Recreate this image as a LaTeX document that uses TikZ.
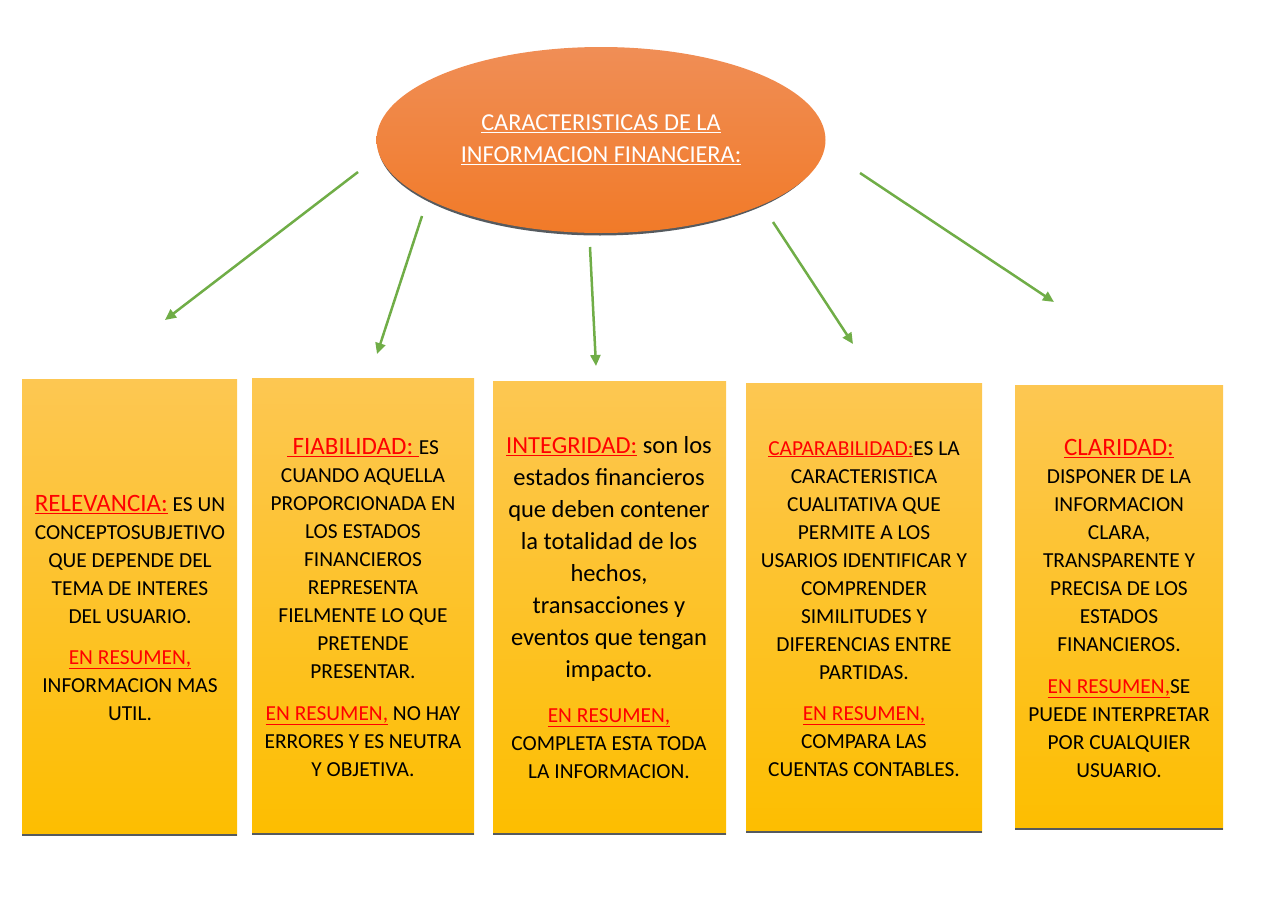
\documentclass[tikz,border=0pt]{standalone}
\usepackage{fontspec}
\setmainfont{Carlito}
\usetikzlibrary{shapes.geometric,arrows.meta}
\definecolor{naranjaA}{RGB}{240,142,86}
\definecolor{naranjaB}{RGB}{241,122,40}
\definecolor{amarilloA}{RGB}{253,199,82}
\definecolor{amarilloB}{RGB}{253,190,0}
\definecolor{verde}{RGB}{112,173,71}
\definecolor{sombra}{RGB}{85,90,95}
\newcommand{\rojo}[1]{\textcolor{red}{\underline{#1}}}
\newcommand{\rojog}[1]{{\fontsize{25}{28}\selectfont\rojo{#1}}}
\begin{document}
\begin{tikzpicture}[x=1pt,y=-1pt,
	caja/.style={rectangle, anchor=north west, inner sep=0pt, top color=amarilloA, bottom color=amarilloB, draw=none},
	texto/.style={anchor=north, align=center, inner sep=0pt, font=\fontsize{21.4}{28}\selectfont},
	flecha/.style={draw=verde, line width=2.5pt, -{Triangle[length=11pt,width=10pt]}}]
	\useasboundingbox (0,0) rectangle (1280,905);
	% elipse central
	\node[ellipse, fill=sombra, minimum width=445pt, minimum height=186pt, inner sep=0pt] (sombra) at (600,142.5) {};
	\node[ellipse, top color=naranjaA, bottom color=naranjaB, minimum width=449pt, minimum height=186pt, inner sep=0pt, align=center, text=white, font=\fontsize{24.3}{32}\selectfont] (titulo) at (601,140) {\underline{CARACTERISTICAS DE LA}\\\underline{INFORMACION FINANCIERA:}};
	% cajas
	\node[caja, minimum width=215pt, minimum height=456pt] (c1) at (22,379) {};
	\node[caja, minimum width=222pt, minimum height=456pt] (c2) at (252,378) {};
	\node[caja, minimum width=233pt, minimum height=453pt] (c3) at (493,381) {};
	\node[caja, minimum width=236pt, minimum height=449pt] (c4) at (746,383) {};
	\node[caja, minimum width=208pt, minimum height=444pt] (c5) at (1015,385) {};
	\foreach \c in {c1,c2,c3,c4,c5}
		\draw[sombra, line width=2pt] (\c.south west) -- (\c.south east);
	% textos
	\node[texto] (t1) at (130,495) {\rojog{RELEVANCIA:} ES UN\\CONCEPTOSUBJETIVO\\QUE DEPENDE DEL\\TEMA DE INTERES\\DEL USUARIO.};
	\node[texto] (r1) at (130,650) {\rojo{EN RESUMEN,}\\INFORMACION MAS\\UTIL.};
	\node[texto] (t2) at (363,438) {\rojog{ FIABILIDAD: }ES\\CUANDO AQUELLA\\PROPORCIONADA EN\\LOS ESTADOS\\FINANCIEROS\\REPRESENTA\\FIELMENTE LO QUE\\PRETENDE\\PRESENTAR.};
	\node[texto] (r2) at (363,706) {\rojo{EN RESUMEN,} NO HAY\\ERRORES Y ES NEUTRA\\Y OBJETIVA.};
	\node[texto, font=\fontsize{24.5}{32}\selectfont] (t3) at (609,436) {\rojo{INTEGRIDAD:} son los\\estados financieros\\que deben contener\\la totalidad de los\\hechos,\\transacciones y\\eventos que tengan\\impacto.};
	\node[texto] (r3) at (609,708) {\rojo{EN RESUMEN,}\\COMPLETA ESTA TODA\\LA INFORMACION.};
	\node[texto] (t4) at (864,441) {\rojo{CAPARABILIDAD:}ES LA\\CARACTERISTICA\\CUALITATIVA QUE\\PERMITE A LOS\\USARIOS IDENTIFICAR Y\\COMPRENDER\\SIMILITUDES Y\\DIFERENCIAS ENTRE\\PARTIDAS.};
	\node[texto] (r4) at (864,706) {\rojo{EN RESUMEN,}\\COMPARA LAS\\CUENTAS CONTABLES.};
	\node[texto] (t5) at (1119,439) {\rojog{CLARIDAD:}\\DISPONER DE LA\\INFORMACION\\CLARA,\\TRANSPARENTE Y\\PRECISA DE LOS\\ESTADOS\\FINANCIEROS.};
	\node[texto] (r5) at (1119,679) {\rojo{EN RESUMEN,}SE\\PUEDE INTERPRETAR\\POR CUALQUIER\\USUARIO.};
	% flechas
	\coordinate (a1) at (358,172);
	\coordinate (b1) at (165,320);
	\coordinate (a2) at (422,216);
	\coordinate (b2) at (377,354);
	\coordinate (a3) at (590,247);
	\coordinate (b3) at (596,366);
	\coordinate (a4) at (773,222);
	\coordinate (b4) at (853,344);
	\coordinate (a5) at (860,173);
	\coordinate (b5) at (1054,302);
	\draw[flecha] (a1) -- (b1);
	\draw[flecha] (a2) -- (b2);
	\draw[flecha] (a3) -- (b3);
	\draw[flecha] (a4) -- (b4);
	\draw[flecha] (a5) -- (b5);
\end{tikzpicture}
\end{document}
